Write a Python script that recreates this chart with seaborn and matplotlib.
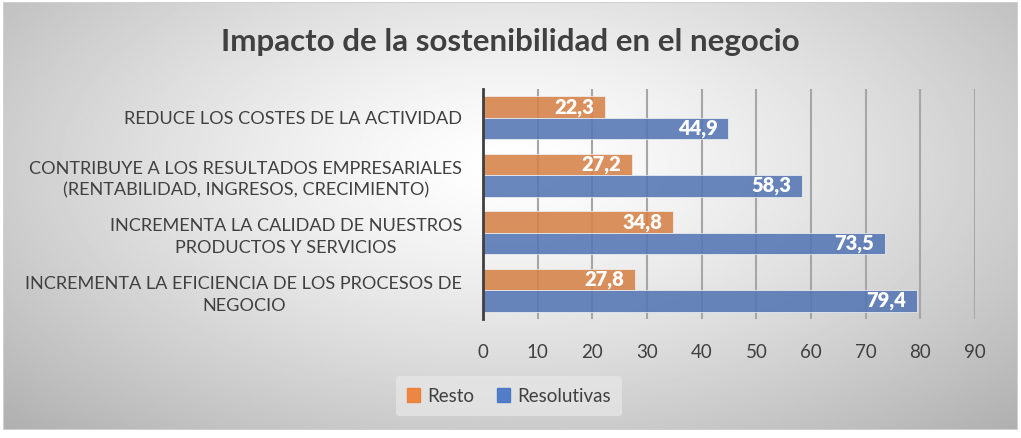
import numpy as np
import pandas as pd
import seaborn as sns
import matplotlib.pyplot as plt
from matplotlib.patches import Rectangle

categories = [
    'REDUCE LOS COSTES DE LA ACTIVIDAD',
    'CONTRIBUYE A LOS RESULTADOS EMPRESARIALES\n(RENTABILIDAD, INGRESOS, CRECIMIENTO)',
    'INCREMENTA LA CALIDAD DE NUESTROS\nPRODUCTOS Y SERVICIOS',
    'INCREMENTA LA EFICIENCIA DE LOS PROCESOS DE\nNEGOCIO',
]
resto = [22.3, 27.2, 34.8, 27.8]
resolutivas = [44.9, 58.3, 73.5, 79.4]
series = ['Resto', 'Resolutivas']
colors = ['#ED7D31', '#4472C4']
xticks = [0, 10, 20, 30, 40, 50, 60, 70, 80, 90]

df = pd.DataFrame({
    'categoria': categories * 2,
    'valor': resto + resolutivas,
    'serie': ['Resto'] * 4 + ['Resolutivas'] * 4,
})

sns.set_theme(style='white')
plt.rcParams['font.family'] = ['Lato', 'DejaVu Sans']
txt = '#404040'

fig = plt.figure(figsize=(10.21, 4.38), dpi=100)
fig.patch.set_facecolor('white')

# radial gradient background of the chart area
bg = fig.add_axes([0.003, 8 / 438, 0.994, 1 - 10 / 438], zorder=-10)
yy, xx = np.mgrid[0:1:300j, 0:1:600j]
r = np.sqrt(((xx - 0.5) / 0.62) ** 2 + ((yy - 0.62) / 0.75) ** 2)
shade = np.clip(1.0 - 0.26 * r ** 1.3, 0, 1)
bg.imshow(shade, cmap='gray', vmin=0, vmax=1, aspect='auto', extent=[0, 1, 0, 1], origin='lower')
bg.set_axis_off()
bg.add_patch(Rectangle((0, 0), 1, 1, transform=bg.transAxes, fill=False, edgecolor='#d0d0d0', lw=1.5))

ax = fig.add_axes([483 / 1021, 1 - 319 / 438, (975 - 483) / 1021, (319 - 89) / 438])
ax.set_facecolor('none')
sns.barplot(data=df, y='categoria', x='valor', hue='serie', hue_order=series,
            order=categories, orient='h', palette=colors, width=0.74,
            alpha=0.88, edgecolor='#f0f0f0', linewidth=0.6, ax=ax, zorder=3)

for cont in ax.containers:
    for p in cont:
        v = p.get_width()
        ax.text(v - 2.0, p.get_y() + p.get_height() / 2, f'{v:.1f}'.replace('.', ','),
                ha='right', va='center', color='white', fontsize=14.5, fontweight='heavy', zorder=5)

ax.set_xlim(0, 90)
ax.set_xticks(xticks)
ax.set_xticklabels([str(t) for t in xticks])
ax.grid(axis='x', color='#a6a6a6', lw=1.5, zorder=0)
ax.grid(axis='y', visible=False)
for s in ['top', 'right', 'bottom']:
    ax.spines[s].set_visible(False)
ax.spines['left'].set_color('#404040')
ax.spines['left'].set_linewidth(2)
ax.spines['left'].set_zorder(6)
ax.tick_params(axis='x', colors=txt, labelsize=13.5, length=0, pad=18)
ax.tick_params(axis='y', colors=txt, labelsize=13.1, length=0, pad=15)
for lab in ax.get_yticklabels():
    lab.set_horizontalalignment('right')
    lab.set_multialignment('center')
    lab.set_linespacing(1.45)
ax.set_xlabel('')
ax.set_ylabel('')

ax.legend_.remove()
handles = [Rectangle((0, 0), 1, 1, color=c, alpha=0.9) for c in colors]
leg = fig.legend(handles, series, loc='center', bbox_to_anchor=(509 / 1021, 1 - 396 / 438),
                 ncol=2, frameon=True, fontsize=13.5, handlelength=0.7, handleheight=0.7,
                 columnspacing=1.2, handletextpad=0.4, borderpad=0.6)
leg.get_frame().set_facecolor('#e8e8e8')
leg.get_frame().set_edgecolor('none')
leg.get_frame().set_alpha(0.7)
for t in leg.get_texts():
    t.set_color(txt)

fig.text(510 / 1021, 1 - 42 / 438, 'Impacto de la sostenibilidad en el negocio',
         ha='center', va='center', fontsize=22.5, fontweight='bold', color=txt)

fig.savefig('out.png', dpi=100)
